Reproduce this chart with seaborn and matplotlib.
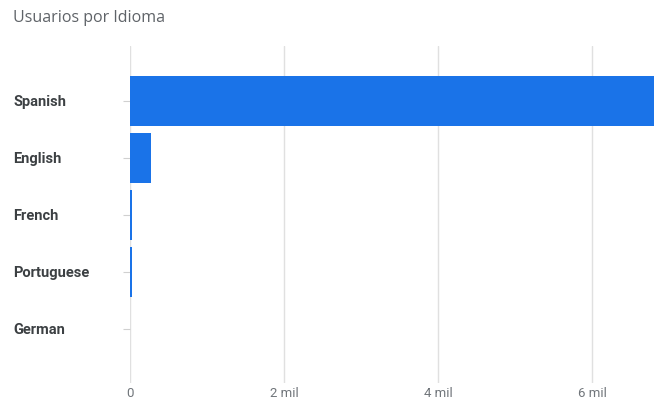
import pandas as pd
import numpy as np
import seaborn as sns
import matplotlib.pyplot as plt
from matplotlib.ticker import FuncFormatter

# values (users per language)
languages = ['Spanish', 'English', 'French', 'Portuguese', 'German']
users = [7000, 270, 25, 22, 0]
x_ticks = [0, 2000, 4000, 6000]

df = pd.DataFrame({'language': languages, 'users': users})

sns.set_style('white')
plt.rcParams['font.family'] = ['Roboto', 'DejaVu Sans']

fig = plt.figure(figsize=(6.54, 4.04), dpi=100)
ax = fig.add_axes([130 / 654, 21 / 404, 524 / 654, 337 / 404])

sns.barplot(data=df, x='users', y='language', orient='h', color='#1a73e8',
            saturation=1, width=0.88, linewidth=0, ax=ax)

ax.set_xlim(0, 6805)
ax.set_ylim(4.95, -0.965)
ax.set_xticks(x_ticks)
ax.xaxis.set_major_formatter(FuncFormatter(lambda v, p: f'{int(v / 1000)} mil' if v else '0'))
ax.grid(axis='x', color='#e0e0e0', linewidth=1)
ax.set_axisbelow(True)
for s in ax.spines.values():
    s.set_visible(False)

ax.set_xlabel('')
ax.set_ylabel('')
ax.tick_params(axis='x', length=0, pad=3, labelsize=9.5, labelcolor='#70757a')
ax.tick_params(axis='y', left=True, length=5, width=0.8, color='#d0d0d0', pad=79,
               labelsize=10.5, labelcolor='#3c4043')
for lab in ax.get_yticklabels():
    lab.set_ha('left')
    lab.set_fontweight('bold')

fig.text(13 / 654, 1 - 18 / 404, 'Usuarios por Idioma', fontsize=11.5, color='#5f6368',
         va='center', ha='left', family=['Open Sans', 'DejaVu Sans'])

fig.savefig('out.png', dpi=100)
